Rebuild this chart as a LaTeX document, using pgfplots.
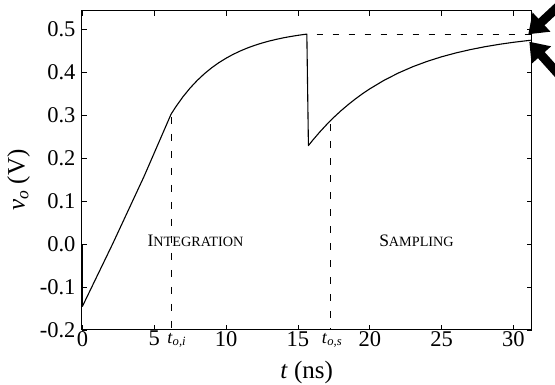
\documentclass[border=0pt]{standalone}
\usepackage{fontspec}
\setmainfont{Liberation Serif}
\usepackage{pgfplots}
\pgfplotsset{compat=1.18}
\usetikzlibrary{arrows.meta}
\begin{document}
\begin{tikzpicture}
\begin{axis}[
  scale only axis, width=450pt, height=319pt,
  xmin=-0.05, xmax=31.27, ymin=-0.2, ymax=0.542,
  clip=false,
  xtick={0,5,10,15,20,25,30},
  xticklabels={0,5,10,15,20,25,30},
  ytick={-0.2,-0.1,0,0.1,0.2,0.3,0.4,0.5},
  yticklabels={-0.2,-0.1,0.0,0.1,0.2,0.3,0.4,0.5},
  tick align=inside, major tick length=5pt, minor tick num=0,
  tick style={black, line width=0.8pt},
  axis line style={black, line width=1pt},
  /pgf/number format/assume math mode=true,
  ticklabel style={font=\fontsize{22.5}{26}\selectfont, inner sep=0pt},
  xticklabel style={yshift=-1pt},
  yticklabel style={xshift=-6pt},
  xlabel={\textit{t} (ns)},
  ylabel={\textit{v}\textsubscript{\textit{o}} (V)},
  label style={font=\fontsize{25}{30}\selectfont},
  xlabel style={at={(axis description cs:0.5,0)}, anchor=center, yshift=-42pt},
  ylabel style={at={(axis description cs:-0.14,0.47)}, anchor=center},
]
\coordinate (BL) at (rel axis cs:0,0);
\coordinate (TR) at (rel axis cs:1,1);
\addplot[black, line width=1.1pt, line join=round] coordinates {
 (0,0) (0,-0.145) (2.1,0.0) (4.3,0.158) (6.17,0.302)
 (6.5,0.3192) (7,0.3426) (7.5,0.3630) (8,0.3808) (8.5,0.3964) (9,0.4100)
 (9.5,0.4219) (10,0.4322) (10.5,0.4413) (11,0.4492) (11.5,0.4562) (12,0.4622)
 (12.5,0.4675) (13,0.4721) (13.5,0.4761) (14,0.4797) (14.5,0.4827) (15,0.4854)
 (15.62,0.4883)
 (15.73,0.229) (16,0.2403) (16.5,0.2598) (17,0.2779) (17.5,0.2947) (18,0.3101)
 (18.5,0.3243) (19,0.3375) (19.5,0.3497) (20,0.3609) (21,0.3809) (22,0.3979)
 (23,0.4125) (24,0.4249) (25,0.4355) (26,0.4445) (27,0.4522) (28,0.4588)
 (29,0.4644) (30,0.4692) (31.2,0.474)
};
\addplot[black, line width=0.8pt, dash pattern=on 7pt off 10pt] coordinates {(6.17,0.296) (6.17,-0.2)};
\addplot[black, line width=0.8pt, dash pattern=on 7pt off 10pt] coordinates {(17.24,0.279) (17.24,-0.2)};
\addplot[black, line width=0.8pt, dash pattern=on 6.5pt off 9.5pt] coordinates {(16.3,0.488) (31.27,0.488)};
\node[anchor=base] at (axis cs:7.87,-0.006) {\fontsize{17.5}{20}\selectfont I\fontsize{14.2}{16}\selectfont NTEGRATION};
\node[anchor=base] at (axis cs:23.25,-0.006) {\fontsize{17.5}{20}\selectfont S\fontsize{14.2}{16}\selectfont AMPLING};
\node[anchor=base west, inner sep=0pt, yshift=-13.3pt] at (axis cs:5.9,-0.2) {\fontsize{18}{20}\selectfont\textit{t}\textsubscript{\textit{o,i}}};
\node[anchor=base west, inner sep=0pt, yshift=-13.3pt] at (axis cs:16.66,-0.2) {\fontsize{18}{20}\selectfont\textit{t}\textsubscript{\textit{o,s}}};
\end{axis}
\draw[black, line width=9pt, -{Triangle[length=18pt, width=25pt]}] ([xshift=40pt, yshift=17pt]TR) -- ([xshift=-3.4pt, yshift=-23.3pt]TR);
\draw[black, line width=9pt, -{Triangle[length=18pt, width=25pt]}] ([xshift=32.6pt, yshift=-69.7pt]TR) -- ([xshift=-2.4pt, yshift=-30.7pt]TR);
\pgfresetboundingbox
\path[use as bounding box] ([xshift=-81.7pt, yshift=-55pt]BL) rectangle ([xshift=23.3pt, yshift=11pt]TR);
\end{tikzpicture}
\end{document}
